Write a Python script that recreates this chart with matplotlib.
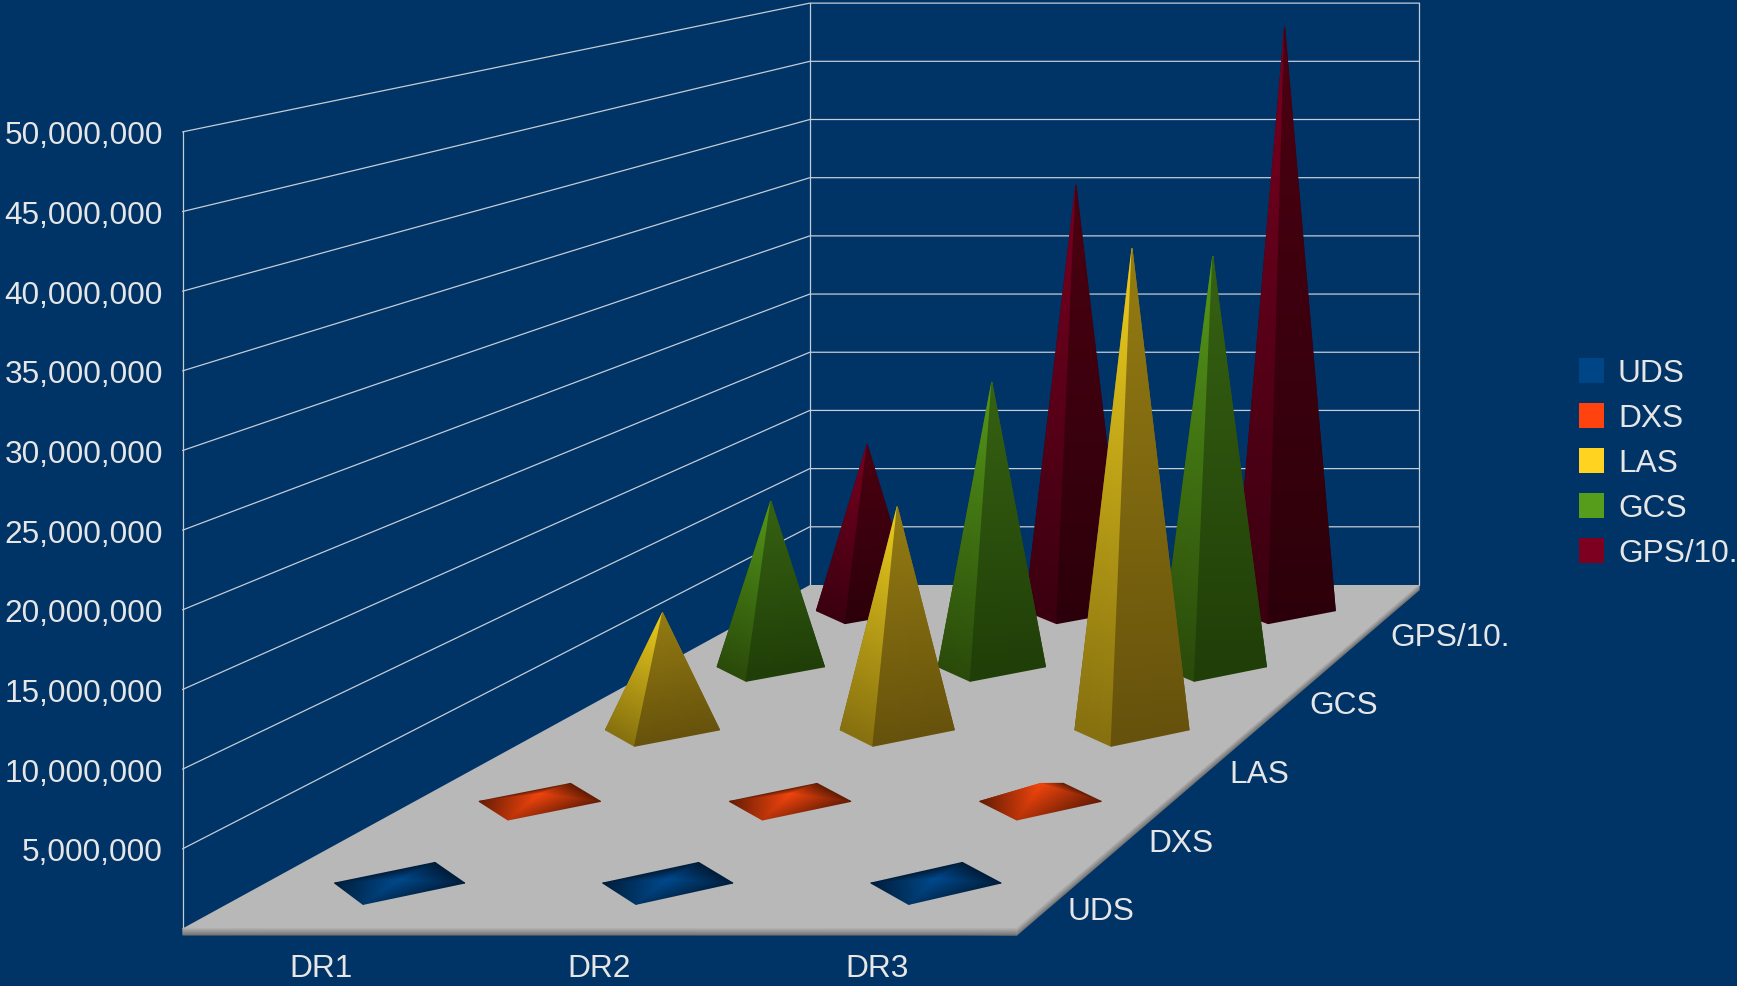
import matplotlib
matplotlib.use('Agg')
import matplotlib.pyplot as plt
from matplotlib.colors import LinearSegmentedColormap
from matplotlib.patches import Polygon, Rectangle

plt.rcParams['font.family'] = ['Liberation Sans', 'DejaVu Sans']

# data
categories = ['DR1', 'DR2', 'DR3']
series = ['UDS', 'DXS', 'LAS', 'GCS', 'GPS/10.']
uds = [250000, 250000, 300000]
dxs = [550000, 550000, 1250000]
las = [8720000, 16600000, 35800000]
gcs = [13100000, 22500000, 32450000]
gps = [13900000, 35600000, 48800000]
values = [uds, dxs, las, gcs, gps]
y_ticks = [5000000, 10000000, 15000000, 20000000, 25000000,
           30000000, 35000000, 40000000, 45000000, 50000000]

legend_colors = ['#004586', '#ff420e', '#ffd320', '#579d1c', '#7e0021']
# face colours, tip -> middle -> base: front-left, front-right, back
face_colors = [
    (('#004a8f', '#003463', '#001c38'), ('#004a8f', '#003463', '#001c38'), ('#004a8f', '#003463', '#001c38')),
    (('#f5460e', '#b03108', '#601b04'), ('#f5460e', '#b03108', '#601b04'), ('#f5460e', '#b03108', '#601b04')),
    (('#f0d01e', '#a98a14', '#86700f'), ('#957c12', '#7f6a10', '#66520c'), ('#957c12', '#7f6a10', '#66520c')),
    (('#569a1a', '#3e6f12', '#2a4a0a'), ('#366212', '#2a5010', '#203e08'), ('#366212', '#2a5010', '#203e08')),
    (('#7a0020', '#5c0018', '#3a0010'), ('#4c0011', '#3c000d', '#2c000a'), ('#4c0011', '#3c000d', '#2c000a')),
]
# the nearly flat pyramids keep some light on their front corner
front_light = [0.55, 0.55, 0, 0, 0]

bg = '#003366'
text_color = '#e6e6e6'
grid_color = '#c4ccd6'
font_size = 22.8

# camera of the 3d box
depth = 0.369
vp_x, vp_y = 2265, -312
left_x, right_x, floor_y = 165, 918, 838
height_scale = 71.9 / 5000000
plate = -417000
half_u, half_v = 0.081, 0.048


def project(u, v, h=0):
    w = depth * v
    x = left_x + u * (right_x - left_x)
    y = floor_y - h * height_scale
    return (x + w * vp_x) / (1 + w), (y + w * vp_y) / (1 + w)


def shade(points, levels, colors, z):
    # gouraud filled polygon (triangles or a quad)
    cmap = LinearSegmentedColormap.from_list('f', list(reversed(colors)))
    tris = [[0, 1, 2]] if len(points) == 3 else [[0, 1, 2], [0, 2, 3]]
    xs = [p[0] for p in points]
    ys = [p[1] for p in points]
    coll = ax.tripcolor(xs, ys, tris, levels, cmap=cmap, vmin=0, vmax=1, shading='gouraud')
    coll.set_zorder(z)
    return coll


fig = plt.figure(figsize=(17.37, 9.86), dpi=100, facecolor=bg)
ax = fig.add_axes([0, 0, 1, 1])
ax.set_xlim(0, 1568)
ax.set_ylim(890, 0)
ax.axis('off')

# walls
top = y_ticks[-1]
for h in y_ticks:
    a, b, c = project(0, 0, h), project(0, 1, h), project(1, 1, h)
    ax.plot([a[0], b[0], c[0]], [a[1], b[1], c[1]], color=grid_color, lw=0.9, zorder=1)
for u, v in [(0, 0), (0, 1), (1, 1)]:
    a, b = project(u, v), project(u, v, top)
    ax.plot([a[0], b[0]], [a[1], b[1]], color=grid_color, lw=0.9, zorder=1)

# floor plate
corners = [project(0, 0), project(1, 0), project(1, 1), project(0, 1)]
ax.add_patch(Polygon(corners, closed=True, fc='#b8b8b8', ec='none', zorder=2))
shade([project(0, 0), project(1, 0), project(1, 0, plate), project(0, 0, plate)],
      [1, 1, 0, 0], ('#b4b4b4', '#707070'), 2)
shade([project(1, 0), project(1, 1), project(1, 1, plate), project(1, 0, plate)],
      [1, 1, 0, 0], ('#b4b4b4', '#707070'), 2)

# pyramids, back row first
z = 3
for r in range(len(series) - 1, -1, -1):
    vc = (r + 0.5) / len(series)
    light = front_light[r]
    for c in range(len(categories)):
        uc = (c + 0.5) / len(categories)
        tip = project(uc, vc, values[r][c])
        front = project(uc, vc - half_v)
        right = project(uc + half_u, vc)
        back = project(uc, vc + half_v)
        left = project(uc - half_u, vc)
        fl, fr, bk = face_colors[r]
        shade([left, back, tip], [0, 0, 1], bk, z)
        shade([back, right, tip], [0, 0, 1], bk, z)
        shade([left, front, tip], [0, light, 1], fl, z + 1)
        shade([front, right, tip], [light, 0, 1], fr, z + 1)
        z += 2

# axis labels
for h in y_ticks:
    x, y = project(0, 0, h)
    ax.text(147, y + 4, f'{h:,}', color=text_color, fontsize=font_size, ha='right', va='center')
for c, name in enumerate(categories):
    x, y = project((c + 0.5) / len(categories), 0)
    ax.text(x - 1, 874.5, name, color=text_color, fontsize=font_size, ha='center', va='center')
for r, name in enumerate(series):
    ax.text(964 + 72.75 * r, 823.5 - 62 * r, name, color=text_color, fontsize=font_size, ha='left', va='center')

# legend
for r, name in enumerate(series):
    y = 323 + 40.6 * r
    ax.add_patch(Rectangle((1425, y), 23, 23, fc=legend_colors[r], ec='none', zorder=5))
    ax.text(1460.5, y + 15, name, color=text_color, fontsize=font_size, ha='left', va='center')

fig.savefig('out.png', dpi=100, facecolor=bg)
